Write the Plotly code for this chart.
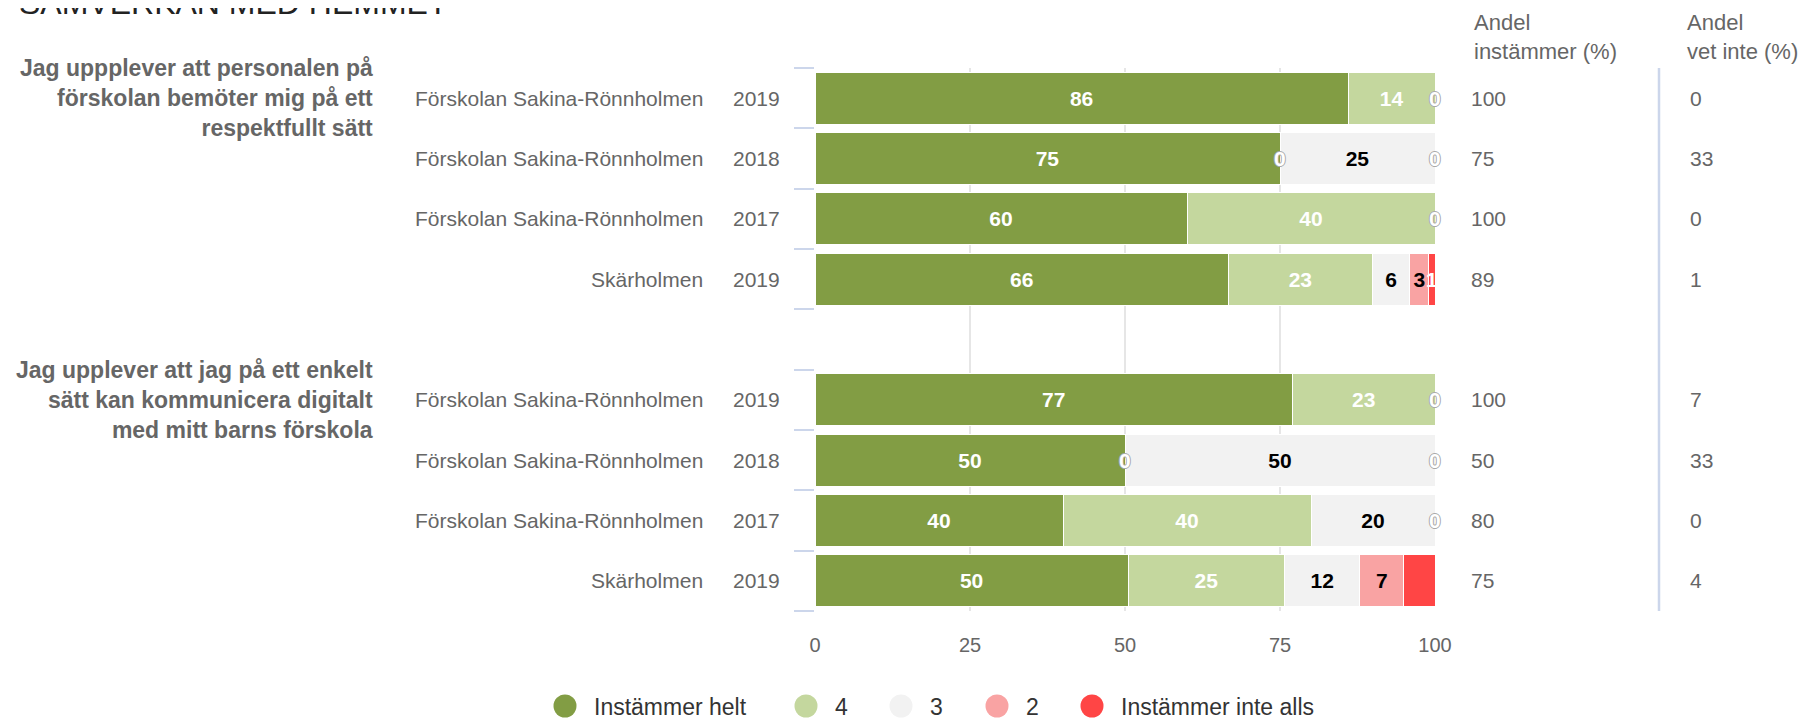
import plotly.graph_objects as go

# ---------------- data ----------------
schools = ["Förskolan Sakina-Rönnholmen", "Förskolan Sakina-Rönnholmen", "Förskolan Sakina-Rönnholmen", "Skärholmen", "",
           "Förskolan Sakina-Rönnholmen", "Förskolan Sakina-Rönnholmen", "Förskolan Sakina-Rönnholmen", "Skärholmen"]
years = ["2019", "2018", "2017", "2019", "", "2019", "2018", "2017", "2019"]
questions = ["Jag uppplever att personalen på<br>förskolan bemöter mig på ett<br>respektfullt sätt",
             "Jag upplever att jag på ett enkelt<br>sätt kan kommunicera digitalt<br>med mitt barns förskola"]
question_rows = [0, 5]

series_names = ["Instämmer helt", "4", "3", "2", "Instämmer inte alls"]
instammer_helt = [86, 75, 60, 66, None, 77, 50, 40, 50]
svar_4 = [14, 0, 40, 23, None, 23, 0, 40, 25]
svar_3 = [0, 25, 0, 6, None, 0, 50, 20, 12]
svar_2 = [0, 0, 0, 3, None, 0, 0, 0, 7]
instammer_inte_alls = [0, 0, 0, 1, None, 0, 0, 0, 5]

andel_instammer = [100, 75, 100, 89, None, 100, 50, 80, 75]
andel_vet_inte = [0, 33, 0, 1, None, 7, 33, 0, 4]

x_ticks = [0, 25, 50, 75, 100]

# ---------------- styles ----------------
series_values = [instammer_helt, svar_4, svar_3, svar_2, instammer_inte_alls]
colors = ["#829d44", "#c4d79e", "#f2f2f2", "#f9a3a3", "#ff4545"]
label_colors = ["#ffffff", "#ffffff", "#000000", "#000000", "#ffffff"]
FONT = "Liberation Sans, Arial, Helvetica, sans-serif"
GRAY = "#666666"

OFF = 8  # default page body margin
W, H = 1810 - OFF, 720 - OFF
L, R, T, B = 815, 1435, 68, 611  # plot area in window pixels


def px(x):
    return (x - L) / (R - L)


def py(y):
    return (B - y) / (B - T)


rows = list(range(len(schools)))

fig = go.Figure()
for name, vals, col, tcol in zip(series_names, series_values, colors, label_colors):
    fig.add_trace(go.Bar(
        y=rows, x=vals, orientation="h", name=name,
        width=0.86,
        marker=dict(color=col, line=dict(color="white", width=1)),
        text=[str(v) if v else "" for v in vals],
        textposition="inside", insidetextanchor="middle", textangle=0,
        textfont=dict(family=FONT, size=21, color=tcol, weight="bold"),
        cliponaxis=False, showlegend=False,
        hovertemplate=name + ": %{text}<extra></extra>",
    ))

annotations = []

# zero labels at segment boundaries (one per position)
for r in rows:
    vals = [s[r] for s in series_values]
    if vals[0] is None:
        continue
    total = sum(vals)
    cum = 0
    seen = set()
    for v in vals:
        if v == 0:
            pos = round(cum / total * 100, 6)
            if pos not in seen:
                seen.add(pos)
                annotations.append(dict(
                    x=pos, y=r, xref="x", yref="y", text="0", showarrow=False,
                    xanchor="center", yanchor="middle",
                    font=dict(family=FONT, size=21, color="#ffffff", weight="bold",
                              shadow="1px 0 0 #aaa, -1px 0 0 #aaa, 0 1px 0 #aaa, 0 -1px 0 #aaa")))
        cum += v

# row labels and value columns
for r in rows:
    if schools[r]:
        annotations.append(dict(x=px(705), y=r, xref="paper", yref="y", text=schools[r],
                                showarrow=False, xanchor="right", yanchor="middle",
                                font=dict(family=FONT, size=21, color=GRAY)))
    if years[r]:
        annotations.append(dict(x=px(782), y=r, xref="paper", yref="y", text=years[r],
                                showarrow=False, xanchor="right", yanchor="middle",
                                font=dict(family=FONT, size=21, color=GRAY)))
    if andel_instammer[r] is not None:
        annotations.append(dict(x=px(1469), y=r, xref="paper", yref="y", text=str(andel_instammer[r]),
                                showarrow=False, xanchor="left", yanchor="middle",
                                font=dict(family=FONT, size=21, color=GRAY)))
    if andel_vet_inte[r] is not None:
        annotations.append(dict(x=px(1688), y=r, xref="paper", yref="y", text=str(andel_vet_inte[r]),
                                showarrow=False, xanchor="left", yanchor="middle",
                                font=dict(family=FONT, size=21, color=GRAY)))

# question labels
for q, r in zip(questions, question_rows):
    annotations.append(dict(x=px(375), y=r, xref="paper", yref="y", text=q,
                            showarrow=False, xanchor="right", yanchor="middle", align="right",
                            font=dict(family=FONT, size=23, color=GRAY, weight="bold")))

# column headers
annotations.append(dict(x=px(1472), y=py(37), xref="paper", yref="paper", text="Andel<br>instämmer (%)",
                        showarrow=False, xanchor="left", yanchor="middle", align="left",
                        font=dict(family=FONT, size=22, color=GRAY)))
annotations.append(dict(x=px(1685), y=py(37), xref="paper", yref="paper", text="Andel<br>vet inte (%)",
                        showarrow=False, xanchor="left", yanchor="middle", align="left",
                        font=dict(family=FONT, size=22, color=GRAY)))

# title (partly cut at the top, as in the reference)
annotations.append(dict(x=px(17), y=py(23), xref="paper", yref="paper", text="SAMVERKAN MED HEMMET",
                        showarrow=False, xanchor="left", yanchor="bottom",
                        font=dict(family=FONT, size=32, color="#222222")))

# legend (circles + text)
shapes = []
legend_cx = [565, 806, 901, 997, 1092]
legend_cy = 706
legend_text_y = 707
rad = 11.5
for name, col, cx in zip(series_names, colors, legend_cx):
    shapes.append(dict(type="circle", xref="paper", yref="paper",
                       x0=px(cx - rad), x1=px(cx + rad), y0=py(legend_cy + rad), y1=py(legend_cy - rad),
                       fillcolor=col, line=dict(width=0), layer="above"))
    annotations.append(dict(x=px(cx + 27), y=py(legend_text_y), xref="paper", yref="paper", text=name,
                            showarrow=False, xanchor="left", yanchor="middle",
                            font=dict(family=FONT, size=23, color="#333333")))

# separator line between the two value columns
shapes.append(dict(type="line", xref="paper", yref="paper", x0=px(1659), x1=px(1659), y0=0, y1=1,
                   line=dict(color="#ccd6eb", width=2.5)))

fig.update_layout(
    width=W, height=H,
    margin=dict(l=L - OFF, r=1810 - R, t=T - OFF, b=720 - B, autoexpand=False),
    paper_bgcolor="white", plot_bgcolor="white",
    barmode="stack", barnorm="percent", bargap=0.14,
    uniformtext=dict(minsize=21, mode="show"),
    font=dict(family=FONT, color=GRAY),
    showlegend=False,
    xaxis=dict(range=[0, 100], tickvals=x_ticks, ticktext=[str(t) for t in x_ticks],
               showgrid=True, gridcolor="#e6e6e6", gridwidth=2, zeroline=False, showline=False,
               ticks="", ticklabelstandoff=20, tickfont=dict(family=FONT, size=20, color=GRAY),
               fixedrange=True),
    yaxis=dict(range=[len(rows) - 0.5, -0.5], tickvals=[i - 0.5 for i in range(len(rows) + 1)],
               ticks="outside", ticklen=20, tickwidth=2, tickcolor="#ccd6eb",
               showticklabels=False, showgrid=False, zeroline=False, showline=False,
               fixedrange=True),
    annotations=annotations,
    shapes=shapes,
)

fig.write_html("out.html")
